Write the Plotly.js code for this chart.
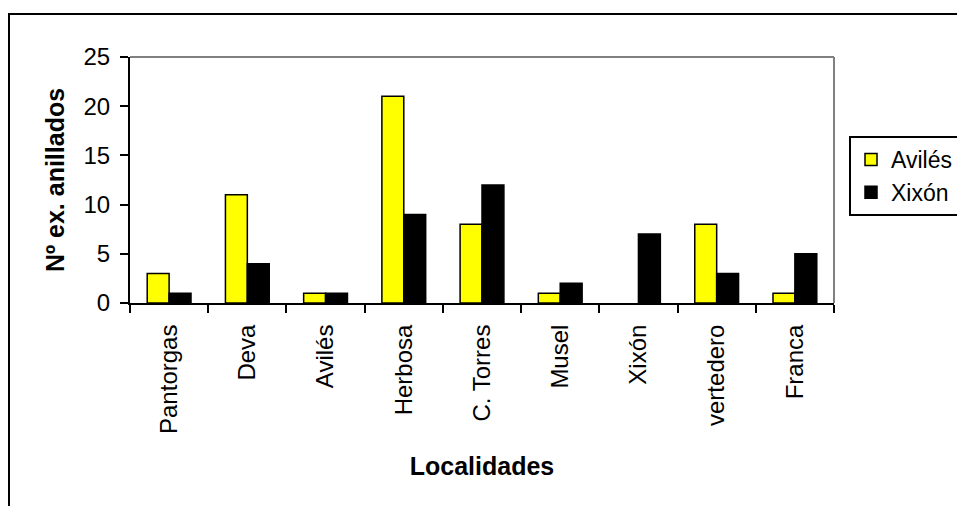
<!DOCTYPE html>
<html>
<head>
<meta charset="utf-8">
<script src="https://cdn.plot.ly/plotly-3.0.1.min.js"></script>
<style>
html,body{margin:0;padding:0;background:#fff;overflow:hidden;}
#wrap{position:absolute;left:0;top:0;width:957px;height:506px;overflow:hidden;}
#chart{width:1000px;height:506px;}
#frame{position:absolute;left:8px;top:13px;width:960px;height:510px;border:2px solid #000;pointer-events:none;box-sizing:border-box;}
</style>
</head>
<body>
<div id="wrap"><div id="chart"></div></div>
<div id="frame"></div>
<script>
const categories = ["Pantorgas","Deva","Avilés","Herbosa","C. Torres","Musel","Xixón","vertedero","Franca"];
const avilesValues = [3, 11, 1, 21, 8, 1, 0, 8, 1];
const xixonValues = [1, 4, 1, 9, 12, 2, 7, 3, 5];
const seriesNames = ["Avilés", "Xixón"];
const yTicks = [0, 5, 10, 15, 20, 25];

const font = "Liberation Sans, Arial, sans-serif";
const fs = 24;
const tfs = 25;
const edge = v => v.map(d => d === 0 ? 0 : 1.5);
const traces = [
  {type:"bar", name:seriesNames[0], x:categories, y:avilesValues,
   marker:{color:"#ffff00", line:{color:"#000", width:edge(avilesValues)}}},
  {type:"bar", name:seriesNames[1], x:categories, y:xixonValues,
   marker:{color:"#000000", line:{color:"#000", width:edge(xixonValues)}}}
];
const layout = {
  width:1000, height:506,
  margin:{l:130, r:166, t:57, b:203},
  paper_bgcolor:"#fff", plot_bgcolor:"#fff",
  font:{family:font, size:fs, color:"#000"},
  barmode:"group", bargap:0.44, bargroupgap:0,
  showlegend:true,
  legend:{x:(849-130)/704, xanchor:"left", y:(303-136)/246, yanchor:"top",
    bordercolor:"#000", borderwidth:2, font:{family:font, size:23},
    itemwidth:30},
  xaxis:{type:"category", showline:true, linecolor:"#000", linewidth:2,
    ticks:"outside", tickson:"boundaries", ticklen:8, tickwidth:2, tickcolor:"#000",
    tickangle:-90, showgrid:false, zeroline:false, ticklabelstandoff:10,
    tickfont:{family:font, size:fs},
    title:{text:"<b>Localidades</b>", font:{family:font, size:tfs}, standoff:24}},
  yaxis:{range:[0,25], tickvals:yTicks, showline:true, linecolor:"#000", linewidth:2,
    ticks:"outside", ticklen:8, tickwidth:2, tickcolor:"#000", ticklabelstandoff:5,
    showgrid:false, zeroline:false, tickfont:{family:font, size:fs},
    title:{text:"<b>Nº ex. anillados</b>", font:{family:font, size:tfs}, standoff:12}},
  shapes:[
    {type:"line", xref:"paper", yref:"paper", x0:0, x1:1, y0:1, y1:1, line:{color:"#808080", width:2}},
    {type:"line", xref:"paper", yref:"paper", x0:1, x1:1, y0:0, y1:1, line:{color:"#808080", width:2}}
  ]
};
Plotly.newPlot("chart", traces, layout, {displayModeBar:false, staticPlot:true});
</script>
</body>
</html>
